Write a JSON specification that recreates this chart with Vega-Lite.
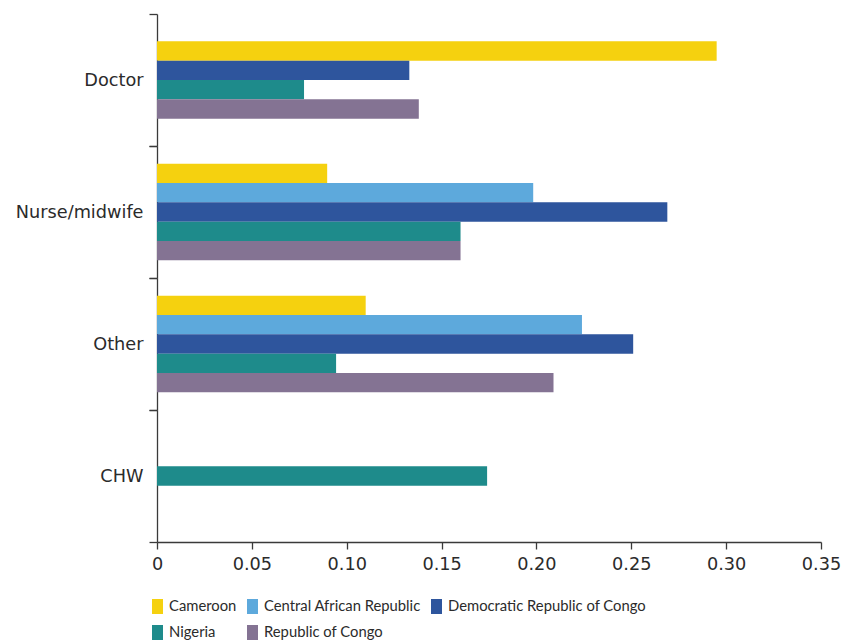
{
  "$schema": "https://vega.github.io/schema/vega-lite/v6.json",
  "background": "white",
  "padding": {"left": 15, "top": 5, "right": 5, "bottom": 0},
  "bounds": "flush",
  "config": {
    "view": {"stroke": null},
    "font": "DejaVu Sans",
    "concat": {"spacing": 0},
    "axis": {
      "domainColor": "#3a3a3a", "tickColor": "#3a3a3a", "labelColor": "#2b2b2b",
      "grid": false, "title": null, "labelFont": "DejaVu Sans", "labelFontSize": 17.7,
      "domainWidth": 1.3, "tickWidth": 1.3
    },
    "legend": {
      "orient": "none", "legendX": -7, "legendY": 585, "direction": "horizontal", "columns": 3,
      "symbolType": "M-0.733,-1H0.733V1H-0.733Z", "symbolSize": 225,
      "symbolStrokeWidth": 0, "symbolOpacity": 1,
      "labelFont": "Lato", "labelFontSize": 14.8, "labelColor": "#2b2b2b",
      "labelLimit": 400, "columnPadding": 8, "rowPadding": 10, "title": null
    }
  },
  "data": {"values": [
    {"role": "Doctor", "country": "Cameroon", "value": 0.295},
    {"role": "Doctor", "country": "Democratic Republic of Congo", "value": 0.133},
    {"role": "Doctor", "country": "Nigeria", "value": 0.0775},
    {"role": "Doctor", "country": "Republic of Congo", "value": 0.138},
    {"role": "Nurse/midwife", "country": "Cameroon", "value": 0.0897},
    {"role": "Nurse/midwife", "country": "Central African Republic", "value": 0.1983},
    {"role": "Nurse/midwife", "country": "Democratic Republic of Congo", "value": 0.269},
    {"role": "Nurse/midwife", "country": "Nigeria", "value": 0.16},
    {"role": "Nurse/midwife", "country": "Republic of Congo", "value": 0.16},
    {"role": "Other", "country": "Cameroon", "value": 0.110},
    {"role": "Other", "country": "Central African Republic", "value": 0.224},
    {"role": "Other", "country": "Democratic Republic of Congo", "value": 0.251},
    {"role": "Other", "country": "Nigeria", "value": 0.0944},
    {"role": "Other", "country": "Republic of Congo", "value": 0.209},
    {"role": "CHW", "country": "Nigeria", "value": 0.174}
  ]},
  "spacing": 0,
  "resolve": {"scale": {"color": "shared", "y": "independent", "yOffset": "independent", "x": "independent"}, "legend": {"color": "shared"}},
  "vconcat": [
    {
      "width": 664, "height": 132,
      "transform": [{"filter": "datum.role === 'Doctor'"}],
      "mark": {"type": "bar"},
      "encoding": {
        "y": {"field": "role", "type": "nominal", "scale": {"paddingInner": 0, "paddingOuter": 0}, "axis": {"tickBand": "extent", "tickSize": 8, "labelPadding": 6}},
        "yOffset": {"field": "country", "type": "nominal", "scale": {"domain": ["_top", "Cameroon", "Democratic Republic of Congo", "Nigeria", "Republic of Congo", "_bottom"], "paddingInner": 0, "paddingOuter": 0.411}},
        "x": {"field": "value", "type": "quantitative", "scale": {"domain": [0, 0.35]}, "axis": null},
        "color": {"field": "country", "type": "nominal", "scale": {"domain": ["Cameroon", "Central African Republic", "Democratic Republic of Congo", "Nigeria", "Republic of Congo"], "range": ["#F5D10F", "#5DA9DC", "#2E559D", "#1E8B8B", "#847393"]}}
      }
    },
    {
      "width": 664, "height": 132,
      "transform": [{"filter": "datum.role === 'Nurse/midwife'"}],
      "mark": {"type": "bar"},
      "encoding": {
        "y": {"field": "role", "type": "nominal", "scale": {"paddingInner": 0, "paddingOuter": 0}, "axis": {"tickBand": "extent", "tickSize": 8, "labelPadding": 6}},
        "yOffset": {"field": "country", "type": "nominal", "scale": {"paddingInner": 0, "paddingOuter": 0.911}},
        "x": {"field": "value", "type": "quantitative", "scale": {"domain": [0, 0.35]}, "axis": null},
        "color": {"field": "country", "type": "nominal", "scale": {"domain": ["Cameroon", "Central African Republic", "Democratic Republic of Congo", "Nigeria", "Republic of Congo"], "range": ["#F5D10F", "#5DA9DC", "#2E559D", "#1E8B8B", "#847393"]}}
      }
    },
    {
      "width": 664, "height": 132,
      "transform": [{"filter": "datum.role === 'Other'"}],
      "mark": {"type": "bar"},
      "encoding": {
        "y": {"field": "role", "type": "nominal", "scale": {"paddingInner": 0, "paddingOuter": 0}, "axis": {"tickBand": "extent", "tickSize": 8, "labelPadding": 6}},
        "yOffset": {"field": "country", "type": "nominal", "scale": {"paddingInner": 0, "paddingOuter": 0.911}},
        "x": {"field": "value", "type": "quantitative", "scale": {"domain": [0, 0.35]}, "axis": null},
        "color": {"field": "country", "type": "nominal", "scale": {"domain": ["Cameroon", "Central African Republic", "Democratic Republic of Congo", "Nigeria", "Republic of Congo"], "range": ["#F5D10F", "#5DA9DC", "#2E559D", "#1E8B8B", "#847393"]}}
      }
    },
    {
      "width": 664, "height": 132,
      "transform": [{"filter": "datum.role === 'CHW'"}],
      "mark": {"type": "bar"},
      "encoding": {
        "y": {"field": "role", "type": "nominal", "scale": {"paddingInner": 0, "paddingOuter": 0}, "axis": {"tickBand": "extent", "tickSize": 8, "labelPadding": 6}},
        "yOffset": {"field": "country", "type": "nominal", "scale": {"domain": ["_a", "_b", "Nigeria", "_c", "_d"], "paddingInner": 0, "paddingOuter": 0.911}},
        "x": {"field": "value", "type": "quantitative", "scale": {"domain": [0, 0.35]}, "axis": {"values": [0, 0.05, 0.1, 0.15, 0.2, 0.25, 0.3, 0.35], "labelExpr": "datum.value === 0 ? '0' : format(datum.value, '.2f')", "labelFlush": false, "tickSize": 7, "labelPadding": 6}},
        "color": {"field": "country", "type": "nominal", "scale": {"domain": ["Cameroon", "Central African Republic", "Democratic Republic of Congo", "Nigeria", "Republic of Congo"], "range": ["#F5D10F", "#5DA9DC", "#2E559D", "#1E8B8B", "#847393"]}}
      }
    }
  ]
}
